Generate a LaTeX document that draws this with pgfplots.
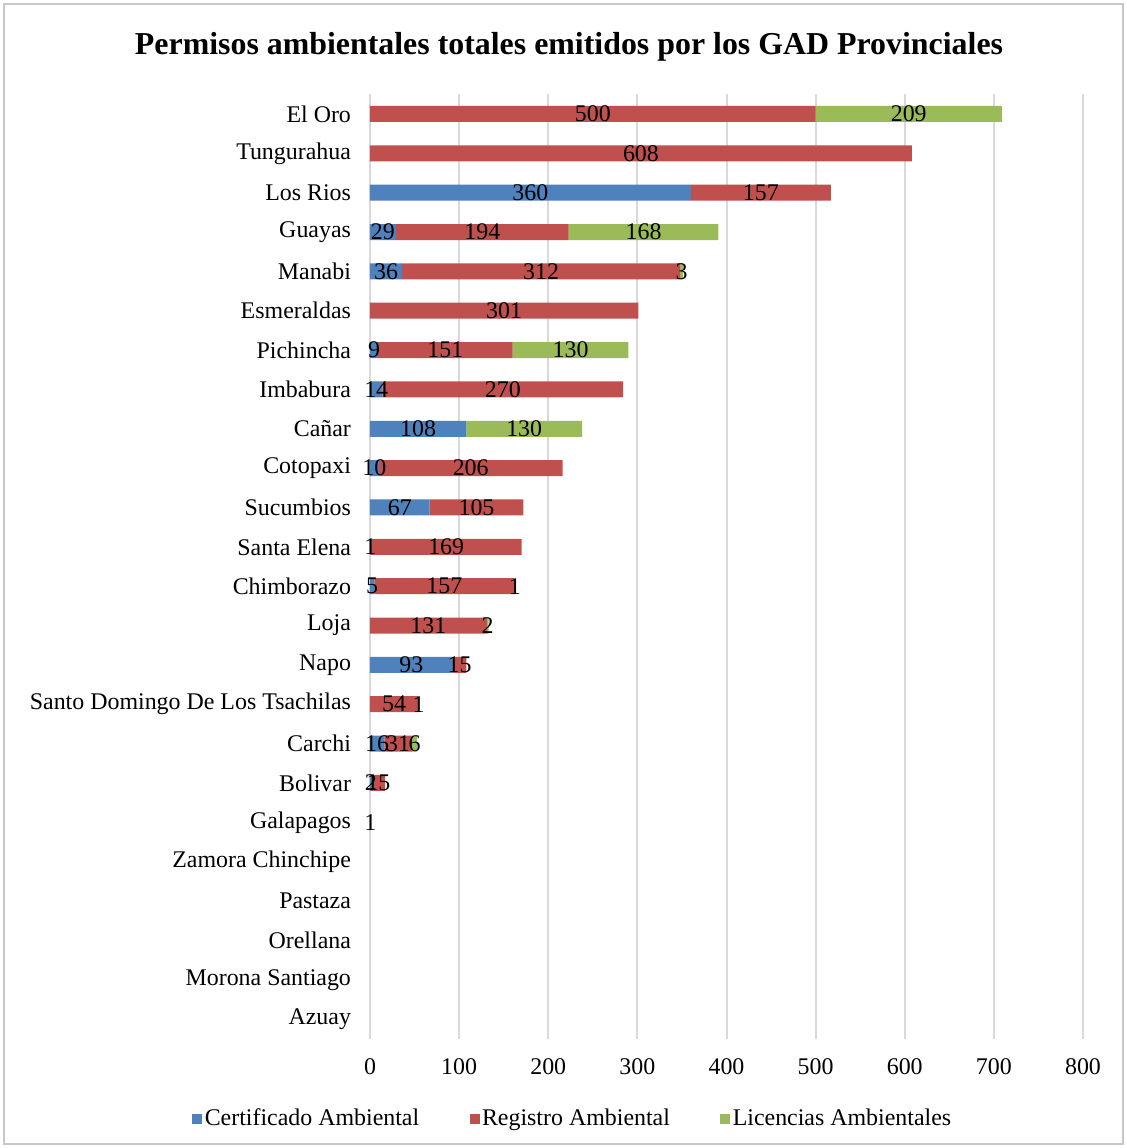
\documentclass[border=0pt]{standalone}
\usepackage{pgfplots}
\pgfplotsset{compat=1.18}
\usepackage{pgfplotstable}
\usepackage{fontspec}
\setmainfont{Liberation Serif}
\definecolor{cblue}{HTML}{4F81BD}
\definecolor{cred}{HTML}{C0504D}
\definecolor{cgreen}{HTML}{9BBB59}

\pgfplotstableread{
idx C R L
0 0 500 209
1 0 608 0
2 360 157 0
3 29 194 168
4 36 312 3
5 0 301 0
6 9 151 130
7 14 270 0
8 108 0 130
9 10 206 0
10 67 105 0
11 1 169 0
12 5 157 1
13 0 131 2
14 93 15 0
15 0 54 1
16 16 31 6
17 2 15 0
18 1 0 0
19 0 0 0
20 0 0 0
21 0 0 0
22 0 0 0
23 0 0 0
}\datatable

\pgfplotsset{lbl/.style={
  nodes near coords={\pgfmathfloatifflags{\pgfplotspointmeta}{0}{}{\pgfmathprintnumber{\pgfplotspointmeta}}},
  point meta=\thisrow{#1},
  every node near coord/.append style={anchor=center, inner sep=0pt,
    font=\fontsize{12}{14}\selectfont, text=black}
}}

\begin{document}
\begin{tikzpicture}
\path[use as bounding box] (-185bp,-54.65bp) rectangle (378.5bp,519.35bp);
\draw[black!22, line width=0.8bp] (-183bp,-52.65bp) rectangle (376.5bp,517.35bp);
\begin{axis}[
  at={(0,0)}, anchor=south west,
  scale only axis, width=356.5bp, height=472.2bp,
  xbar stacked, bar width=8bp,
  xmin=0, xmax=800, ymin=-0.5, ymax=23.5, y dir=reverse,
  xtick={0,100,...,800}, ytick={0,...,23},
  yticklabels={El Oro, Tungurahua, Los Rios, Guayas, Manabi, Esmeraldas, Pichincha, Imbabura, Cañar, Cotopaxi, Sucumbios, Santa Elena, Chimborazo, Loja, Napo, Santo Domingo De Los Tsachilas, Carchi, Bolivar, Galapagos, Zamora Chinchipe, Pastaza, Orellana, Morona Santiago, Azuay},
  xmajorgrids, grid style={draw=black!15, line width=1bp},
  axis line style={draw=none}, major tick length=0pt,
  tick label style={font=\fontsize{12}{14}\selectfont},
  /pgf/number format/assume math mode=true,
  xticklabel style={yshift=-6.5bp}, yticklabel style={xshift=-6bp},
  legend columns=3,
  legend style={draw=none, fill=none, at={(axis description cs:0.2847,-0.0845)}, anchor=center,
    font=\fontsize{12}{14}\selectfont,
    /tikz/every even column/.append style={column sep=24bp},
    nodes={inner sep=1.2bp}},
  legend cell align=left,
  legend image code/.code={\draw[#1,draw=none] (0bp,-2.5bp) rectangle (5bp,2.5bp);},
]
\addplot[fill=cblue, draw=none, lbl=C] table[x=C, y=idx] {\datatable};
\addplot[fill=cred, draw=none, lbl=R] table[x=R, y=idx] {\datatable};
\addplot[fill=cgreen, draw=none, lbl=L] table[x=L, y=idx] {\datatable};
\legend{Certificado Ambiental, Registro Ambiental, Licencias Ambientales}
\end{axis}
\node[font=\bfseries\fontsize{16}{19}\selectfont] at (99.5bp,496bp) {Permisos ambientales totales emitidos por los GAD Provinciales};
\end{tikzpicture}
\end{document}
